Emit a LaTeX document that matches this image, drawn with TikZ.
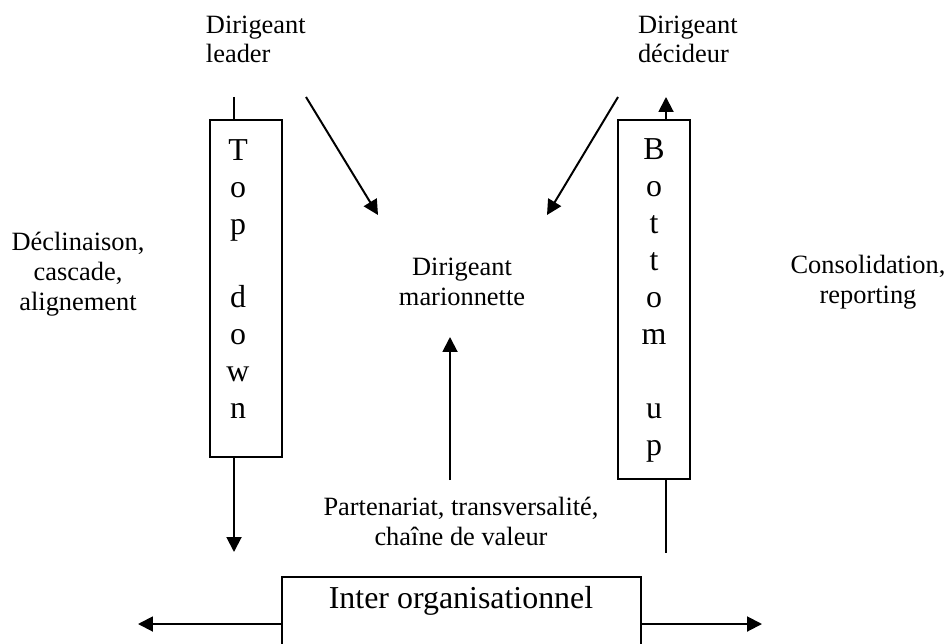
\documentclass[tikz,border=0pt]{standalone}
\usepackage{fontspec}
\setmainfont{Liberation Serif}
\usetikzlibrary{arrows.meta}
\begin{document}
\begin{tikzpicture}[x=0.4545pt,y=-0.4545pt,
  line width=0.9pt,
  lbl/.style={inner sep=0pt, font=\fontsize{12}{13.6}\selectfont, align=center, anchor=base},
  lblL/.style={inner sep=0pt, font=\fontsize{12}{13.6}\selectfont, align=left, anchor=base west},
  col/.style={inner sep=0pt, font=\fontsize{14.5}{16.8}\selectfont, align=center},
  vbox/.style={draw, minimum width=32.7pt, inner sep=0pt},
  arr/.style={-{Triangle[length=6.8pt,width=6.8pt]}},
]
\clip (0,0) rectangle (951,643);

% Top down column
\node[vbox, minimum height=153.2pt] (td) at (246,288.5) {};
\node[col] (tdt) at (238,279) {T\\o\\p\\\mbox{}\\d\\o\\w\\n};
\coordinate (tdtop) at (234,97);
\draw (tdtop) -- (tdtop |- td.north);
\coordinate (tdend) at (234,552);
\draw[arr] (tdend |- td.south) -- (tdend);

% Bottom up column
\node[vbox, minimum height=163.2pt] (bu) at (654,299.5) {};
\node[col] (but) at (654,300.5) {B\\o\\t\\t\\o\\m\\\mbox{}\\u\\p};
\coordinate (butop) at (666,97);
\draw[arr] (butop |- bu.north) -- (butop);
\coordinate (buend) at (666,553);
\draw (buend |- bu.south) -- (buend);

% Diagonal arrows
\coordinate (l1) at (306,97); \coordinate (l2) at (378,215);
\draw[arr] (l1) -- (l2);
\coordinate (d1) at (618,97); \coordinate (d2) at (547,215);
\draw[arr] (d1) -- (d2);

% Central arrow
\coordinate (c1) at (450,480); \coordinate (c2) at (450,337);
\draw[arr] (c1) -- (c2);

% Inter organisationnel box
\node[draw, minimum width=163.2pt, minimum height=42.7pt, inner sep=0pt] (io) at (461.5,624) {};
\node[lbl, font=\fontsize{14.5}{16.8}\selectfont] (iot) at (461,608) {Inter organisationnel};
\coordinate (iol) at (138,624); \coordinate (ior) at (762,624);
\draw[arr] (io.west) -- (iol);
\draw[arr] (io.east) -- (ior);

% Labels (base anchor = baseline of last line)
\node[lblL] (lead) at (205,63) {Dirigeant\\leader};
\node[lblL] (dec) at (637,63) {Dirigeant\\décideur};
\node[lbl] (decl) at (78,310) {Déclinaison,\\cascade,\\alignement};
\node[lbl] (mar) at (462,305) {Dirigeant\\marionnette};
\node[lbl] (cons) at (868,303) {Consolidation,\\reporting};
\node[lbl] (part) at (461,545) {Partenariat, transversalité,\\chaîne de valeur};
\end{tikzpicture}
\end{document}
